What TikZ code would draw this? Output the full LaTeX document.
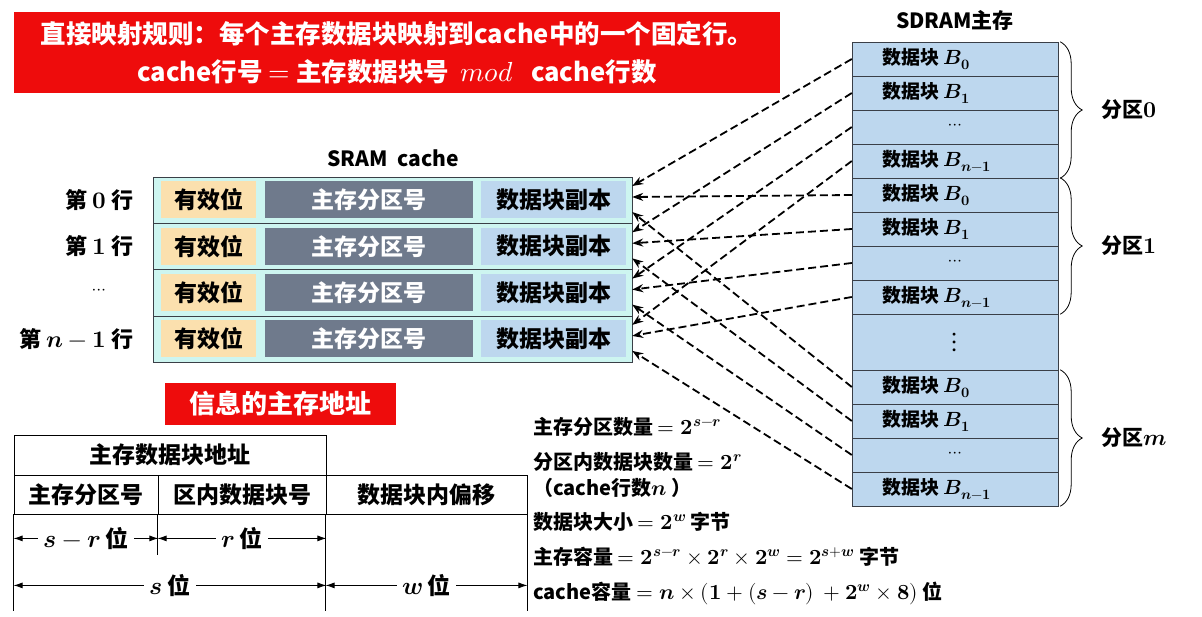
\documentclass[tikz,border=0pt]{standalone}
\usepackage{fontspec}
\usepackage{unicode-math}
\setmainfont{Noto Sans CJK SC}
\setmathfont{Latin Modern Math}[Scale=1.08]
\newcommand{\bmath}[1]{\symbf{\symbfit{#1}}}
\usetikzlibrary{arrows.meta,decorations.pathreplacing}

\begin{document}
\begin{tikzpicture}[x=1pt,y=-1pt,
  redbox/.style={fill=bannerred,text=white,inner sep=0pt},
  rowbox/.style={draw=linegray,fill=rowcyan,minimum width=479,minimum height=46.3,inner sep=0pt},
  cellbox/.style={inner sep=0pt,minimum height=37,font=\fontsize{23}{28}\selectfont\bfseries},
  blkbox/.style={draw=linegray,fill=datablue,minimum width=206,minimum height=34,inner sep=0pt},
  blktext/.style={anchor=west,inner sep=0pt,font=\fontsize{19}{23}\selectfont\bfseries},
  tabcell/.style={draw=black,thick,inner sep=0pt,font=\fontsize{23}{28}\selectfont\bfseries},
  dimarrow/.style={thick,{Latex[length=9pt,width=6pt]}-{Latex[length=9pt,width=6pt]}},
  dimlabel/.style={fill=white,inner xsep=5pt,inner ysep=0pt,font=\fontsize{23}{28}\selectfont\bfseries},
  maparrow/.style={line width=1.8pt,dash pattern=on 8pt off 4pt,-{Stealth[length=11pt,width=8pt]}},
  formula/.style={anchor=west,inner sep=0pt,font=\fontsize{20}{24}\selectfont\bfseries}]
\definecolor{bannerred}{HTML}{EE0C0C}
\definecolor{linegray}{HTML}{3A3F47}
\definecolor{rowcyan}{HTML}{CDF5F0}
\definecolor{validorange}{HTML}{FBE0AE}
\definecolor{taggray}{HTML}{6F7A8C}
\definecolor{datablue}{HTML}{BDD7EE}
\useasboundingbox (0,0) rectangle (1202,617);

% rule banner
\node[redbox,minimum width=766,minimum height=81,align=center,
  font=\fontsize{25.5}{38}\selectfont\bfseries] (rule) at (397,52.5)
  {直接映射规则：每个主存数据块映射到cache中的一个固定行。\\
   cache行号 $=$ 主存数据块号 \ $mod$ \ \ cache行数};

% SRAM cache
\node[font=\fontsize{21}{25}\selectfont\bfseries] (sramtitle) at (393,158) {SRAM\ \ cache};
\foreach \i in {0,...,3}
{ \node[rowbox] (row\i) at (392.5,200+46.3*\i) {};
  \node[cellbox,fill=validorange,minimum width=95] (valid\i) at (208.5,200+46.3*\i) {有效位};
  \node[cellbox,fill=taggray,text=white,minimum width=208] (tag\i) at (369,200+46.3*\i) {主存分区号};
  \node[cellbox,fill=datablue,minimum width=145] (copy\i) at (553.5,200+46.3*\i) {数据块副本};}
\foreach \i/\lbl in {0/第 $\bmath{0}$ 行,1/第 $\bmath{1}$ 行,3/第 $\bmath{n-1}$ 行}
{ \node[anchor=east,font=\fontsize{22}{26}\selectfont\bfseries] (lbl\i) at (137,200+46.3*\i) {\lbl};}
\node[font=\fontsize{16}{20}\selectfont] (lbl2) at (99,292) {$\cdots$};

% SDRAM main memory
\node[font=\fontsize{21}{25}\selectfont\bfseries] (sdramtitle) at (955,20) {SDRAM主存};
\foreach \p/\top in {0/42,1/178,m/370}
{ \foreach \i in {0,...,3}
  { \node[blkbox] (blk\p\i) at (955,\top+17+34*\i) {};}
  \foreach \i/\sub in {0/0,1/1,3/{n-1}}
  { \node[blktext] (txt\p\i) at (882,\top+17+34*\i) {数据块 $\bmath{B_{\sub}}$};}
  \node[font=\fontsize{16}{20}\selectfont] (dots\p) at (blk\p2) {$\cdots$};
  \draw[thick,decorate,decoration={brace,amplitude=22pt}]
    ([xshift=2]blk\p0.north east) -- ([xshift=2]blk\p3.south east)
    node[midway,anchor=west,xshift=38pt,font=\fontsize{21}{25}\selectfont\bfseries] (part\p) {分区$\bmath{\p}$};
}
\node[blkbox,minimum height=56,font=\fontsize{26}{30}\selectfont] (gap) at (955,342) {$\vdots$};

% mapping
\foreach \p/\dy in {0/14,1/3,m/-12}
{ \foreach \i in {0,...,3}
  { \draw[maparrow] (blk\p\i.west) -- ([yshift=\dy pt]row\i.east);}}

% address format
\node[redbox,minimum width=231,minimum height=42,font=\fontsize{26}{30}\selectfont\bfseries] (addrtitle) at (280,404) {信息的主存地址};
\node[tabcell,minimum width=312,minimum height=40] (blkaddr) at (170,455) {主存数据块地址};
\node[tabcell,minimum width=144,minimum height=39] (partno) at (86,494.5) {主存分区号};
\node[tabcell,minimum width=168,minimum height=39] (inblk) at (242,494.5) {区内数据块号};
\node[tabcell,minimum width=201,minimum height=39] (offset) at (426.5,494.5) {数据块内偏移};
\draw[thick] (partno.south west) -- ++(0,97);
\draw[thick] (inblk.south west) -- ++(0,41);
\draw[thick] (offset.south west) -- ++(0,97);
\draw[thick] (offset.south east) -- ++(0,97);
\draw[dimarrow] ([yshift=-24]partno.south west) -- node[dimlabel] (srlbl) {$\bmath{s-r}$ 位} ([yshift=-24]partno.south east);
\draw[dimarrow] ([yshift=-24]inblk.south west) -- node[dimlabel] (rlbl) {$\bmath{r}$ 位} ([yshift=-24]inblk.south east);
\draw[dimarrow] ([yshift=-71]partno.south west) -- node[dimlabel] (slbl) {$\bmath{s}$ 位} ([yshift=-71]inblk.south east);
\draw[dimarrow] ([yshift=-71]offset.south west) -- node[dimlabel] (wlbl) {$\bmath{w}$ 位} ([yshift=-71]offset.south east);

% sizes
\foreach \y/\txt [count=\k] in {427/{主存分区数量 $=\bmath{2^{s-r}}$},
  462/{分区内数据块数量 $=\bmath{2^{r}}$},
  488/{（cache行数$\bmath{n}$ ）},
  522/{数据块大小 $=\bmath{2^{w}}$ 字节},
  557/{主存容量 $=\bmath{2^{s-r}\times2^{r}\times2^{w}=2^{s+w}}$ 字节},
  593/{cache容量 $=\bmath{n\times(1+(s-r)\ +2^{w}\times8)}$ 位}}
{ \node[formula] (size\k) at (533,\y) {\txt};}
\end{tikzpicture}
\end{document}
